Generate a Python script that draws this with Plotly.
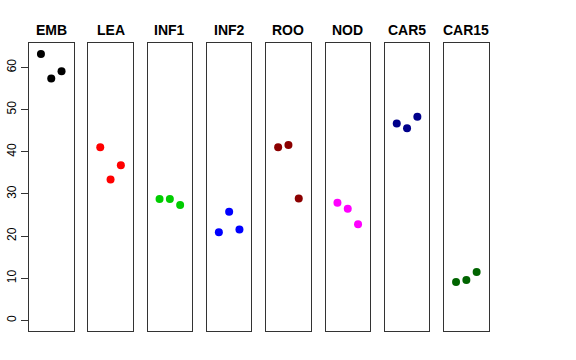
import plotly.graph_objects as go

groups = ["EMB", "LEA", "INF1", "INF2", "ROO", "NOD", "CAR5", "CAR15"]
values = {
    "EMB": [63.2, 57.4, 59.1],
    "LEA": [41.1, 33.4, 36.8],
    "INF1": [28.8, 28.8, 27.4],
    "INF2": [20.9, 25.8, 21.6],
    "ROO": [41.1, 41.6, 28.9],
    "NOD": [27.9, 26.5, 22.8],
    "CAR5": [46.7, 45.6, 48.3],
    "CAR15": [9.1, 9.6, 11.5],
}
colors = ["#000000", "#FF0000", "#00CD00", "#0000FF", "#8B0000", "#FF00FF", "#00008B", "#006400"]
replicate = [1, 2, 3]
y_ticks = [0, 10, 20, 30, 40, 50, 60]

W, H = 576, 360
left0 = 29.0
panel_w = 44.5
step = 59.3
top_px, bot_px = 43.0, 331.0

fig = go.Figure()
for i, g in enumerate(groups):
    idx = "" if i == 0 else str(i + 1)
    fig.add_trace(go.Scatter(
        x=replicate, y=values[g], mode="markers",
        marker=dict(color=colors[i], size=8),
        xaxis="x" + idx, yaxis="y" + idx, showlegend=False,
        hoverinfo="y",
    ))
    x0 = (left0 + i * step) / W
    x1 = (left0 + i * step + panel_w) / W
    xa = dict(domain=[x0, x1], range=[-0.16, 4.16], showgrid=False, zeroline=False,
              showticklabels=False, ticks="", showline=True, mirror=True,
              linecolor="#333333", linewidth=1, anchor="y" + idx, fixedrange=True)
    ya = dict(domain=[1 - bot_px / H, 1 - top_px / H], range=[-2.5, 65.8], showgrid=False,
              zeroline=False, showline=True, mirror=True, linecolor="#333333", linewidth=1,
              anchor="x" + idx, fixedrange=True)
    if i == 0:
        ya.update(tickvals=y_ticks, ticks="outside", ticklen=7, tickcolor="#333333",
                  tickangle=-90, tickfont=dict(family="Liberation Sans, Arial", size=12, color="#000000"),
                  showticklabels=True)
    else:
        ya.update(showticklabels=False, ticks="")
    fig.layout["xaxis" + idx] = xa
    fig.layout["yaxis" + idx] = ya
    fig.add_annotation(text="<b>%s</b>" % g, xref="paper", yref="paper",
                       x=(x0 + x1) / 2, y=1 - 29.5 / H, xanchor="center", yanchor="middle",
                       showarrow=False, font=dict(family="Liberation Sans, Arial", size=14, color="#000000"))

fig.update_layout(width=W, height=H, margin=dict(l=0, r=0, t=0, b=0),
                  plot_bgcolor="white", paper_bgcolor="white")
fig.write_html("out.html", config={"displayModeBar": False},
               post_script="document.body.style.margin='0';")
